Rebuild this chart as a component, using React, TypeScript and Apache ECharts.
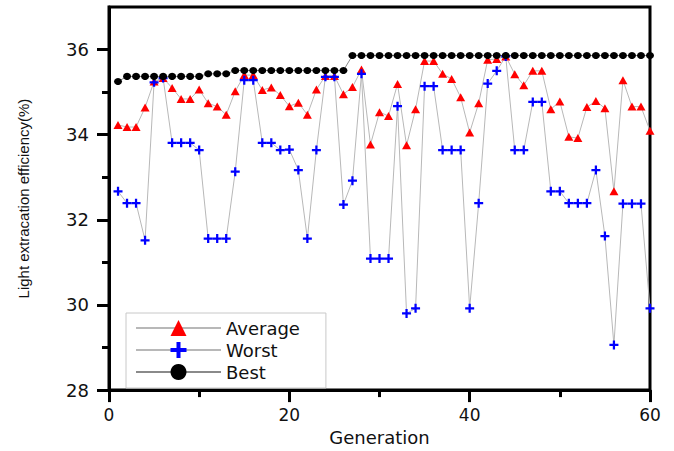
import React, { useEffect, useRef } from "react";
import * as echarts from "echarts";

const averageValues = [
  34.23, 34.18, 34.18, 34.64, 35.25, 35.33, 35.1, 34.84, 34.84, 35.06,
  34.74, 34.66, 34.47, 35.02, 35.4, 35.4, 35.05, 35.11, 34.93, 34.67,
  34.75, 34.47, 35.06, 35.38, 35.38, 34.95, 35.12, 35.53, 33.77, 34.53,
  34.44, 35.19, 33.75, 34.6, 35.73, 35.73, 35.43, 35.31, 34.88, 34.05,
  34.74, 35.76, 35.78, 35.84, 35.42, 35.16, 35.5, 35.5, 34.6, 34.78,
  33.95, 33.92, 34.65, 34.79, 34.62, 32.67, 35.28, 34.66, 34.66, 34.09,
];

const worstValues = [
  32.67, 32.39, 32.39, 31.52, 35.23, 35.33, 33.81, 33.81, 33.81, 33.64,
  31.56, 31.56, 31.56, 33.13, 35.28, 35.28, 33.81, 33.81, 33.64, 33.65,
  33.17, 31.56, 33.64, 35.36, 35.36, 32.36, 32.92, 35.43, 31.09, 31.09,
  31.09, 34.67, 29.8, 29.92, 35.14, 35.14, 33.64, 33.64, 33.64, 29.92,
  32.39, 35.2, 35.5, 35.84, 33.64, 33.64, 34.77, 34.77, 32.67, 32.67,
  32.39, 32.39, 32.39, 33.17, 31.62, 29.06, 32.38, 32.38, 32.38, 29.92,
];

const bestValues = [
  35.25, 35.37, 35.37, 35.37, 35.37, 35.37, 35.37, 35.37, 35.37, 35.37,
  35.43, 35.43, 35.43, 35.51, 35.51, 35.51, 35.51, 35.51, 35.51, 35.51,
  35.51, 35.51, 35.51, 35.51, 35.51, 35.51, 35.86, 35.86, 35.86, 35.86,
  35.86, 35.86, 35.86, 35.86, 35.86, 35.86, 35.86, 35.86, 35.86, 35.86,
  35.86, 35.86, 35.86, 35.86, 35.86, 35.86, 35.86, 35.86, 35.86, 35.86,
  35.86, 35.86, 35.86, 35.86, 35.86, 35.86, 35.86, 35.86, 35.86, 35.86,
];

const yMajorTicks = [28, 30, 32, 34, 36];
const yMinorTicks = [29, 31, 33, 35];
const seriesNames = ["Average", "Worst", "Best"];

const PLUS = "path://M3,0H5V3H8V5H5V8H3V5H0V3H3Z";

const toPairs = (vals: number[]) => vals.map((v, i) => [i + 1, v]);

export default function App() {
  const ref = useRef<HTMLDivElement>(null);
  useEffect(() => {
    if (!ref.current) return;
    const chart = echarts.init(ref.current, undefined, { renderer: "svg" });
    const axisFont = "DejaVu Sans";
    chart.setOption({
      animation: false,
      backgroundColor: "#ffffff",
      grid: {
        left: 109,
        right: 24,
        top: 7,
        bottom: 58,
        show: true,
        borderColor: "#000",
        borderWidth: 3,
      },
      legend: {
        orient: "vertical",
        left: 126,
        top: 313,
        data: seriesNames,
        itemWidth: 85,
        itemHeight: 20,
        itemGap: 2,
        padding: [5, 26, 6, 9],
        borderColor: "#c8c8c8",
        borderWidth: 1,
        backgroundColor: "#fff",
        textStyle: { fontFamily: axisFont, fontSize: 18, lineHeight: 20, color: "#111" },
      },
      xAxis: {
        type: "value",
        min: 0,
        max: 60,
        interval: 20,
        name: "Generation",
        nameLocation: "middle",
        nameGap: 33,
        nameTextStyle: { fontFamily: axisFont, fontSize: 18, color: "#111" },
        axisLine: { show: true, lineStyle: { color: "#000", width: 3 } },
        axisTick: { show: true, length: 12, lineStyle: { color: "#000", width: 3 } },
        minorTick: { show: true, splitNumber: 2, length: 7, lineStyle: { color: "#000", width: 3 } },
        splitLine: { show: false },
        axisLabel: { margin: 16, fontFamily: axisFont, fontSize: 17, color: "#111" },
      },
      yAxis: [
        {
          type: "value",
          min: 28,
          max: 37,
          position: "left",
          name: "Light extracation efficiency(%)",
          nameLocation: "middle",
          nameGap: 78,
          nameTextStyle: { fontFamily: "Liberation Sans", fontSize: 15, color: "#111" },
          axisLine: { show: true, lineStyle: { color: "#000", width: 3 } },
          axisTick: { show: true, length: 12, customValues: yMajorTicks, lineStyle: { color: "#000", width: 3 } },
          splitLine: { show: false },
          axisLabel: {
            customValues: yMajorTicks,
            margin: 20,
            fontFamily: axisFont,
            fontSize: 18,
            color: "#111",
          },
        },
        {
          type: "value",
          min: 28,
          max: 37,
          position: "left",
          axisLine: { show: false },
          axisTick: { show: true, length: 7, customValues: yMinorTicks, lineStyle: { color: "#000", width: 3 } },
          axisLabel: { show: false },
          splitLine: { show: false },
        },
      ],
      series: [
        {
          name: seriesNames[0],
          type: "line",
          data: toPairs(averageValues),
          symbol: "triangle",
          symbolSize: [9, 8],
          itemStyle: { color: "#ff0000" },
          lineStyle: { color: "#b8b8b8", width: 1 },
        },
        {
          name: seriesNames[1],
          type: "line",
          data: toPairs(worstValues),
          symbol: PLUS,
          symbolSize: 9,
          itemStyle: { color: "#0000ff" },
          lineStyle: { color: "#b8b8b8", width: 1 },
        },
        {
          name: seriesNames[2],
          type: "line",
          data: toPairs(bestValues),
          symbol: "circle",
          symbolSize: [8, 7],
          itemStyle: { color: "#000000" },
          lineStyle: { color: "#8a8a8a", width: 1 },
        },
      ],
    });
    return () => chart.dispose();
  }, []);
  return <div ref={ref} style={{ width: 674, height: 451, position: "absolute", left: 0, top: 0 }} />;
}
